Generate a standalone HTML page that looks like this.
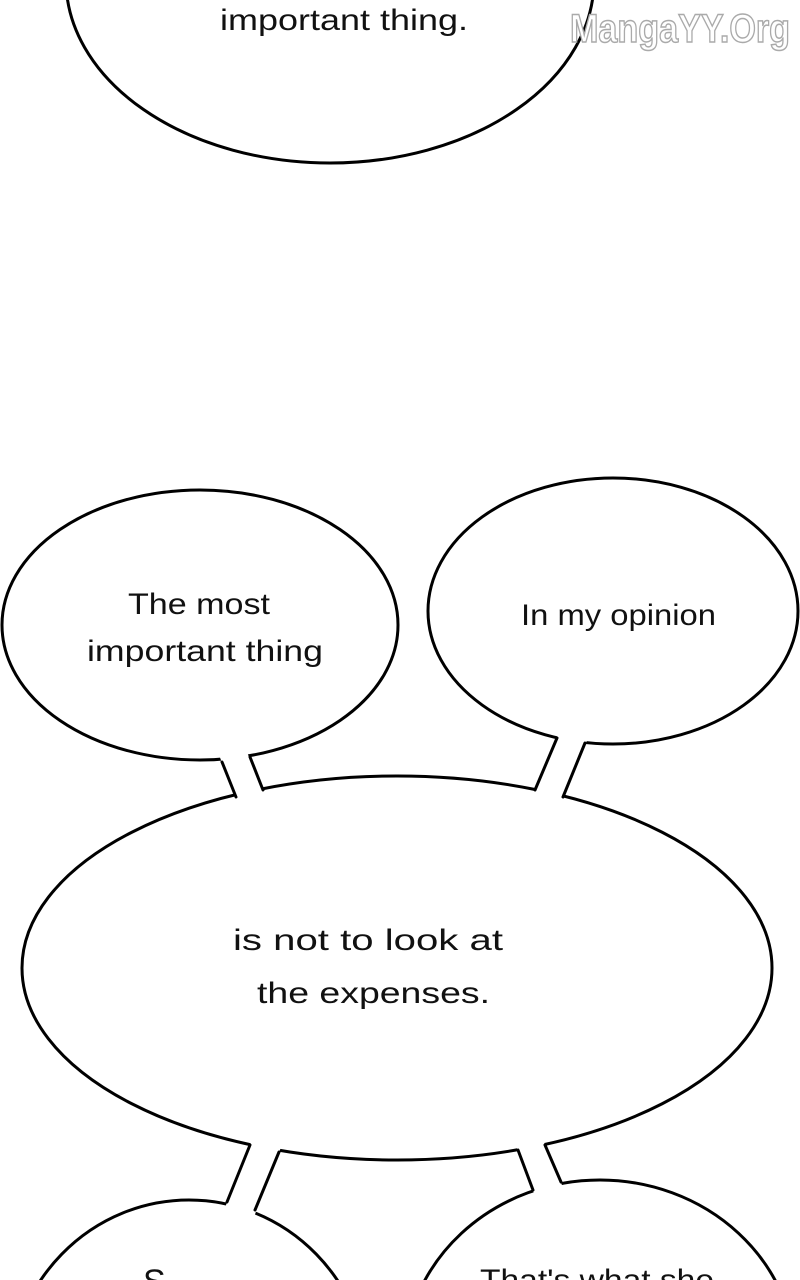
<!DOCTYPE html>
<html><head><meta charset="utf-8"><style>html,body{margin:0;padding:0;background:#fff;width:800px;height:1280px;overflow:hidden}svg{display:block}</style></head>
<body>
<svg width="800" height="1280" viewBox="0 0 800 1280" xmlns="http://www.w3.org/2000/svg">
<g fill="#fff" stroke="#000" stroke-width="3">
<ellipse cx="330" cy="-20" rx="264" ry="183"/>
<ellipse cx="200" cy="625" rx="198" ry="135"/>
<ellipse cx="613" cy="611" rx="185" ry="133"/>
<ellipse cx="397" cy="968" rx="375" ry="192"/>
<ellipse cx="189" cy="1385" rx="180" ry="185"/>
<ellipse cx="600" cy="1362" rx="196" ry="182"/>
</g>
<g fill="#fff" stroke="none">
<polygon points="216,747 244,745 269,805 240,810"/>
<polygon points="563,723 592,728 559,810 529,803"/>
<polygon points="256,1130 285,1137 252,1222 222,1215"/>
<polygon points="512,1135 540,1133 567,1197 538,1204"/>
</g>
<g stroke="#000" stroke-width="3" fill="none" stroke-linecap="round">
<line x1="222" y1="762" x2="236" y2="797"/>
<line x1="250" y1="757" x2="263" y2="790"/>
<line x1="557" y1="738" x2="535" y2="790"/>
<line x1="585" y1="743" x2="563" y2="797"/>
<line x1="250" y1="1145" x2="227" y2="1202"/>
<line x1="279" y1="1152" x2="255" y2="1210"/>
<line x1="518" y1="1150" x2="533" y2="1190"/>
<line x1="545" y1="1145" x2="561" y2="1182"/>
</g>
<g font-family="Liberation Sans, sans-serif" font-size="30" fill="#111">
<text x="220" y="30" textLength="248" lengthAdjust="spacingAndGlyphs">important thing.</text>
<text x="128" y="614" textLength="142" lengthAdjust="spacingAndGlyphs">The most</text>
<text x="87" y="661" textLength="236" lengthAdjust="spacingAndGlyphs">important thing</text>
<text x="521" y="625" textLength="195" lengthAdjust="spacingAndGlyphs">In my opinion</text>
<text x="233" y="950" textLength="270" lengthAdjust="spacingAndGlyphs">is not to look at</text>
<text x="257" y="1003" textLength="233" lengthAdjust="spacingAndGlyphs">the expenses.</text>
<text x="143" y="1293" font-size="34">S</text>
<text x="480" y="1290" textLength="234" lengthAdjust="spacingAndGlyphs">That's what she</text>
</g>
<text x="570" y="42" font-family="Liberation Sans, sans-serif" font-size="40" font-weight="bold" fill="#fff" stroke="#aaa" stroke-width="1.5" textLength="220" lengthAdjust="spacingAndGlyphs">MangaYY.Org</text>
</svg>
</body></html>
